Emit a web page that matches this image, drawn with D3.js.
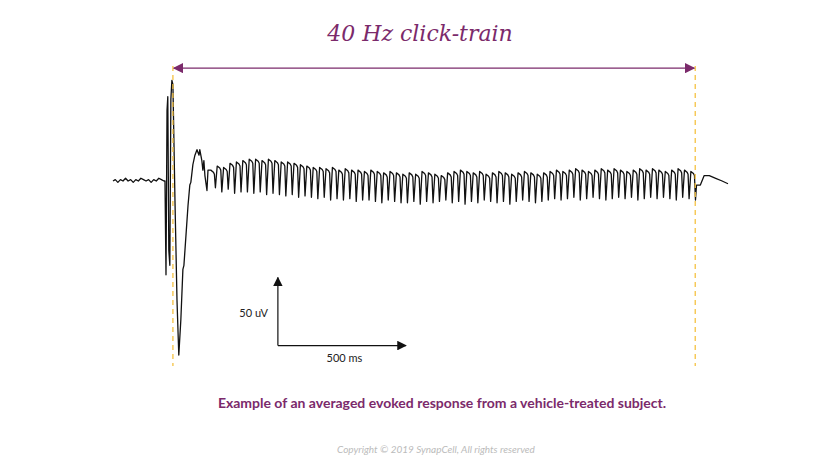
<!DOCTYPE html>
<html><head><meta charset="utf-8">
<script src="https://cdn.jsdelivr.net/npm/d3@7"></script>
<style>body{margin:0;background:#fff}</style></head>
<body><svg id="c" width="828" height="468"></svg>
<script>
// time in ms, voltage in uV
const preT = [-234,-225,-215,-205,-195,-185,-175,-165,-155,-145,-135,-125,-115,-105,-95,-85,-75,-65,-55,-45,-35];
const preV = [0,1,-1,1,0,2,0,1,-1,1,0,2,1,0,1,-1,1,0,2,1,0];
const onsetT = [-31,-27,-23,-20,-16,-12,-8,-4,0,8,16,23,31,39,43,51,59,66,70,78,86,94,102,105,113,117,121,125,133,137];
const onsetV = [0,-69,52,62,-51,-62,60,74,71,-14,-88,-128,-102,-65,-62,-40,-18,-3,-1,12,19,23,19,23,15,8,15,4,-7,8];
const cycleStart = 145, cycleMs = 25;
const peaks = [8,11,10,13,14, 15,16,16,15,16,15,14,14,13,12,
 11,10,10,9,10,8,9,8,8,7,8,7,6,7,6,
 5,6,5,7,6,5,4,6,7,8,7,6,7,5,6,7,6,5,6,7,6,5,6,
 7,8,7,8,9,8,7,8,9,8,9,8,7,8,9,8,9,8,7,8,9,8,7];
const troughs = [-5,-8,-6,-9,-8, -8,-9,-8,-10,-9,-10,-11,-10,-12,-11,
 -12,-13,-12,-14,-13,-14,-13,-15,-14,-14,-15,-16,-14,-15,-16,
 -16,-15,-17,-15,-16,-15,-14,-16,-15,-17,-15,-16,-14,-15,-16,-15,-17,-15,-14,-15,-16,-15,-14,
 -13,-14,-13,-12,-14,-13,-12,-13,-14,-13,-12,-13,-12,-14,-13,-12,-13,-12,-13,-14,-12,-13,-14];
const postT = [2045,2060,2075,2095,2120,2145,2168];
const postV = [-3,-3,4,4,2,0,-2];
const trainEnd = 2040;
const title = "40 Hz click-train";
const caption = "Example of an averaged evoked response from a vehicle-treated subject.";
const copyright = "Copyright © 2019 SynapCell, All rights reserved";

const svg = d3.select("#c");
const x = d3.scaleLinear().domain([-234,2168]).range([113,728]);
const y = d3.scaleLinear().domain([-130,75]).range([357.8,79]);
const purple = "#7b2a6b";

let pts = preT.map((t,i)=>[t,preV[i]]).concat(onsetT.map((t,i)=>[t,onsetV[i]]));
peaks.forEach((p,i)=>{
  const t0 = cycleStart + i*cycleMs;
  pts.push([t0+3,p],[t0+13,p-1.5],[t0+17,p-3],[t0+21,troughs[i]]);
});
pts = pts.concat(postT.map((t,i)=>[t,postV[i]]));
svg.append("path").attr("d",d3.line().x(d=>x(d[0])).y(d=>y(d[1]))(pts))
  .attr("fill","none").attr("stroke","#111").attr("stroke-width",1.3).attr("stroke-linejoin","round");

// dashed stimulus lines
[0,trainEnd].forEach(t=>svg.append("line").attr("x1",x(t)).attr("x2",x(t)).attr("y1",66).attr("y2",366)
  .attr("stroke","#f5c242").attr("stroke-width",1.3).attr("stroke-dasharray","5,4"));

const defs = svg.append("defs");
function marker(id,col){
  defs.append("marker").attr("id",id).attr("viewBox","0 0 10 10").attr("refX",9).attr("refY",5)
   .attr("markerWidth",8).attr("markerHeight",8).attr("orient","auto-start-reverse")
   .append("path").attr("d","M0,0L10,5L0,10z").attr("fill",col);
}
marker("mp",purple); marker("mk","#111");
svg.append("line").attr("x1",x(0)+1).attr("x2",x(trainEnd)-1).attr("y1",y(83)).attr("y2",y(83))
  .attr("stroke",purple).attr("stroke-width",1.3).attr("marker-start","url(#mp)").attr("marker-end","url(#mp)");

// scale bars
const sbT = 410, sbV = -121;
svg.append("line").attr("x1",x(sbT)).attr("x2",x(sbT)).attr("y1",y(sbV)).attr("y2",y(sbV+50))
  .attr("stroke","#111").attr("stroke-width",1.2).attr("marker-end","url(#mk)");
svg.append("line").attr("x1",x(sbT)).attr("x2",x(sbT+500)).attr("y1",y(sbV)).attr("y2",y(sbV))
  .attr("stroke","#111").attr("stroke-width",1.2).attr("marker-end","url(#mk)");
svg.append("text").attr("x",x(sbT)-10).attr("y",y(sbV+21)).attr("text-anchor","end")
  .attr("font-family","Lato, sans-serif").attr("font-size",11).attr("fill","#222").text("50 uV");
svg.append("text").attr("x",x(sbT+260)).attr("y",y(sbV)+16).attr("text-anchor","middle")
  .attr("font-family","Lato, sans-serif").attr("font-size",11).attr("fill","#222").text("500 ms");

svg.append("text").attr("x",420).attr("y",41).attr("text-anchor","middle")
  .attr("font-family","DejaVu Serif, serif").attr("font-style","italic").attr("font-size",22)
  .attr("fill",purple).text(title);
svg.append("text").attr("x",442).attr("y",408).attr("text-anchor","middle")
  .attr("font-family","Lato, sans-serif").attr("font-weight","bold").attr("font-size",14)
  .attr("fill",purple).text(caption);
svg.append("text").attr("x",436).attr("y",453).attr("text-anchor","middle")
  .attr("font-family","Lato, sans-serif").attr("font-style","italic").attr("font-size",10)
  .attr("fill","#bbb").text(copyright);
</script></body></html>
